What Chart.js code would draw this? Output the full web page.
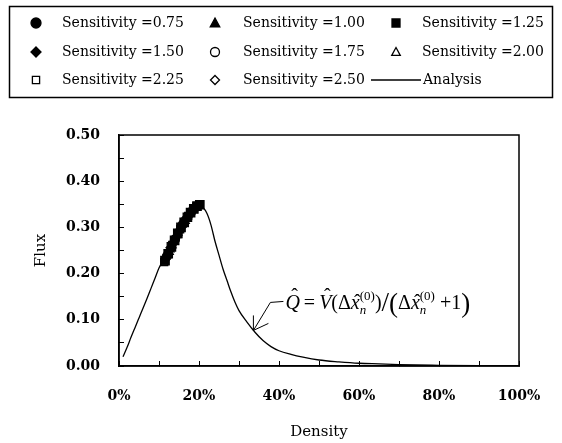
<!DOCTYPE html>
<html>
<head>
<meta charset="utf-8">
<script src="https://cdn.jsdelivr.net/npm/chart.js"></script>
<style>
  body { margin: 0; background: #fff; }
  canvas { display: block; }
</style>
</head>
<body>
<canvas id="myChart" width="562" height="443"></canvas>
<script>
// values, density in %
const analysisDensity = [1, 2, 3, 4, 5, 6, 7, 8, 9, 10, 12, 14, 16, 18, 19, 20, 21, 22, 23, 24, 25, 26, 27, 28, 29, 30, 32, 34, 36, 38, 40, 43, 46, 50, 55, 60, 65, 70, 80, 90, 100];
const analysisFlux = [0.020, 0.040, 0.062, 0.083, 0.104, 0.125, 0.146, 0.168, 0.190, 0.212, 0.243, 0.276, 0.306, 0.331, 0.341, 0.347, 0.343, 0.330, 0.305, 0.270, 0.240, 0.210, 0.185, 0.160, 0.138, 0.120, 0.095, 0.073, 0.055, 0.042, 0.033, 0.025, 0.019, 0.013, 0.009, 0.006, 0.0045, 0.003, 0.0015, 0.0005, 0.0];

const density075 = [12.0, 14.0, 16.0, 18.0];
const flux075 = [0.238, 0.274, 0.307, 0.333];
const density100 = [12.5, 14.5, 16.5, 18.5];
const flux100 = [0.247, 0.283, 0.314, 0.338];
const density125 = [11.5, 12.3, 13.1, 13.9, 14.7, 15.5, 16.3, 17.1, 17.9, 18.7, 19.5, 20.2];
const flux125 = [0.228, 0.243, 0.258, 0.272, 0.287, 0.300, 0.311, 0.322, 0.332, 0.340, 0.346, 0.349];
const density150 = [13.0, 15.0, 17.0, 19.0];
const flux150 = [0.256, 0.292, 0.321, 0.343];
const density175 = [11.8, 13.6, 15.6, 17.6];
const flux175 = [0.234, 0.267, 0.301, 0.328];
const density200 = [12.8, 14.8, 16.8, 18.8];
const flux200 = [0.252, 0.288, 0.318, 0.341];
const density225 = [11.3, 13.3, 15.3, 17.3, 19.3];
const flux225 = [0.225, 0.262, 0.296, 0.325, 0.345];
const density250 = [12.2, 14.2, 16.2, 18.2, 19.8];
const flux250 = [0.241, 0.278, 0.310, 0.335, 0.347];

const sensitivityLabels = ['Sensitivity =0.75', 'Sensitivity =1.00', 'Sensitivity =1.25',
                           'Sensitivity =1.50', 'Sensitivity =1.75', 'Sensitivity =2.00',
                           'Sensitivity =2.25', 'Sensitivity =2.50'];

const yTickValues = [0.0, 0.1, 0.2, 0.3, 0.4, 0.5];
const xTickValues = [0, 20, 40, 60, 80, 100];

// where the formula arrow points (density %, flux)
const arrowDensity = 33.6;
const arrowFlux = 0.077;

function toPoints(xs, ys) {
  return xs.map((x, i) => ({x: x, y: ys[i]}));
}

const INK = '#000';
const NONE = 'rgba(0,0,0,0)';

const markerSets = [
  {data: toPoints(density075, flux075), pointStyle: 'circle', radius: 4.5, fill: INK},
  {data: toPoints(density100, flux100), pointStyle: 'triangle', radius: 5, fill: INK},
  {data: toPoints(density125, flux125), pointStyle: 'rect', radius: 6, fill: INK},
  {data: toPoints(density150, flux150), pointStyle: 'rectRot', radius: 5, fill: INK},
  {data: toPoints(density175, flux175), pointStyle: 'circle', radius: 3.5, fill: NONE},
  {data: toPoints(density200, flux200), pointStyle: 'triangle', radius: 4.5, fill: NONE},
  {data: toPoints(density225, flux225), pointStyle: 'rect', radius: 5, fill: NONE},
  {data: toPoints(density250, flux250), pointStyle: 'rectRot', radius: 4.5, fill: NONE}
];

const datasets = markerSets.map((m, i) => ({
  label: sensitivityLabels[i],
  data: m.data,
  showLine: false,
  pointStyle: m.pointStyle,
  pointRadius: m.radius,
  pointBackgroundColor: m.fill,
  pointBorderColor: INK,
  pointBorderWidth: 1.2,
  order: m.pointStyle === 'rect' && m.fill === INK ? 0 : 1
}));

datasets.push({
  label: 'Analysis',
  data: toPoints(analysisDensity, analysisFlux),
  showLine: true,
  borderColor: INK,
  borderWidth: 1.3,
  pointRadius: 0,
  cubicInterpolationMode: 'monotone',
  order: 2
});

// legend marker drawn by hand, 3 per row
function drawMarker(ctx, style, r, filled, x, y) {
  ctx.save();
  ctx.beginPath();
  if (style === 'circle') {
    ctx.arc(x, y, r, 0, Math.PI * 2);
  } else if (style === 'triangle') {
    ctx.moveTo(x, y - r);
    ctx.lineTo(x + r * 0.95, y + r * 0.75);
    ctx.lineTo(x - r * 0.95, y + r * 0.75);
    ctx.closePath();
  } else if (style === 'rect') {
    ctx.rect(x - r * 0.8, y - r * 0.8, r * 1.6, r * 1.6);
  } else {
    ctx.moveTo(x, y - r);
    ctx.lineTo(x + r, y);
    ctx.lineTo(x, y + r);
    ctx.lineTo(x - r, y);
    ctx.closePath();
  }
  ctx.lineWidth = 1.3;
  ctx.strokeStyle = INK;
  if (filled) { ctx.fillStyle = INK; ctx.fill(); }
  ctx.stroke();
  ctx.restore();
}

const legendBox = {
  id: 'legendBox',
  afterDraw(chart) {
    const ctx = chart.ctx;
    ctx.save();
    ctx.strokeStyle = INK;
    ctx.lineWidth = 1.5;
    ctx.strokeRect(9.5, 6.5, 543, 91);
    const markX = [36, 215, 396];
    const textX = [62, 243, 422];
    const rowY = [23, 52, 80];
    ctx.font = '14px "DejaVu Serif"';
    ctx.fillStyle = INK;
    ctx.textBaseline = 'middle';
    for (let i = 0; i < 9; i++) {
      const col = i % 3, row = Math.floor(i / 3);
      const ds = chart.data.datasets[i];
      if (i < 8) {
        const m = markerSets[i];
        const lr = m.fill === INK ? 5 : 4.5;
        drawMarker(ctx, m.pointStyle, lr, m.fill === INK, markX[col], rowY[row]);
        ctx.fillText(ds.label, textX[col], rowY[row]);
      } else {
        ctx.beginPath();
        ctx.lineWidth = 1.3;
        ctx.moveTo(371, rowY[row]);
        ctx.lineTo(421, rowY[row]);
        ctx.stroke();
        ctx.fillText(ds.label, 423, rowY[row]);
      }
    }
    ctx.restore();
  }
};

// plot frame and the formula call-out
const frameAndNote = {
  id: 'frameAndNote',
  afterDraw(chart) {
    const ctx = chart.ctx;
    const a = chart.chartArea;
    ctx.save();
    ctx.strokeStyle = INK;
    ctx.lineWidth = 1.5;
    ctx.strokeRect(a.left, a.top, a.right - a.left, a.bottom - a.top);

    const tx = chart.scales.x.getPixelForValue(arrowDensity);
    const ty = chart.scales.y.getPixelForValue(arrowFlux);
    ctx.lineWidth = 1;
    ctx.beginPath();
    ctx.moveTo(tx, ty);
    ctx.lineTo(tx + 17, ty - 28);
    ctx.lineTo(tx + 30, ty - 29);
    ctx.moveTo(tx, ty);
    ctx.lineTo(tx, ty - 15);
    ctx.moveTo(tx, ty);
    ctx.lineTo(tx + 15, ty - 7);
    ctx.stroke();

    // Q^ = V^(Δx^_n^(0)) / (Δx^_n^(0) + 1)
    let x = tx + 32;
    const y = ty - 21;
    const it = 'italic 20px "Liberation Serif"';
    const rm = '20px "Liberation Serif"';
    const big = '27px "Liberation Serif"';
    const sm = '13px "Liberation Serif"';
    const smIt = 'italic 13px "Liberation Serif"';
    ctx.fillStyle = INK;
    ctx.textBaseline = 'alphabetic';
    function put(text, font, dy) {
      ctx.font = font;
      ctx.fillText(text, x, y + (dy || 0));
      const w = ctx.measureText(text).width;
      x += w;
      return w;
    }
    function hat(base, lift) {
      const x0 = x;
      const w = put(base, it);
      ctx.font = rm;
      const hw = ctx.measureText('\u02C6').width;
      ctx.fillText('\u02C6', x0 + w / 2 - hw / 2 + 2, y - lift);
    }
    function scripts() {
      const x0 = x;
      put('(0)', sm, -9);
      const w1 = x - x0;
      x = x0;
      put('n', smIt, 5);
      x = x0 + Math.max(w1, x - x0);
    }
    hat('Q', 6);
    put('\u2009=\u2009', rm);
    hat('V', 6);
    put('(', rm);
    put('\u0394', rm);
    hat('x', 0);
    scripts();
    put(')', rm);
    put('/', big, 2);
    put('(', big, 3);
    put('\u0394', rm);
    hat('x', 0);
    scripts();
    put(' +1', rm);
    put(')', big, 3);
    ctx.restore();
  }
};

const config = {
  type: 'scatter',
  data: {datasets: datasets},
  options: {
    responsive: false,
    animation: false,
    events: [],
    layout: {padding: {top: 135, right: 43, bottom: 0, left: 0}},
    plugins: {
      legend: {display: false},
      tooltip: {enabled: false}
    },
    scales: {
      x: {
        type: 'linear',
        min: 0,
        max: 100,
        afterFit: s => { s.height = 77; s.paddingLeft = 0; s.paddingRight = 0; },
        ticks: {
          stepSize: 10,
          autoSkip: false,
          maxRotation: 0,
          padding: 27,
          color: INK,
          font: {family: '"DejaVu Serif"', size: 14, weight: 'bold'},
          callback: v => (xTickValues.includes(v) ? v + '%' : '')
        },
        grid: {drawOnChartArea: false, drawTicks: true, tickLength: -5, color: INK, lineWidth: 1},
        border: {display: true, color: INK, width: 1.5},
        title: {
          display: true,
          text: 'Density',
          color: INK,
          font: {family: '"DejaVu Serif"', size: 15},
          padding: {top: 0, bottom: 2}
        }
      },
      y: {
        min: 0,
        max: 0.5,
        afterFit: s => { s.width = 119; },
        ticks: {
          stepSize: 0.05,
          autoSkip: false,
          padding: 24,
          color: INK,
          font: {family: '"DejaVu Serif"', size: 14, weight: 'bold'},
          callback: v => {
            const t = Math.round(v * 100) / 100;
            return yTickValues.some(k => Math.abs(k - t) < 1e-6) ? t.toFixed(2) : '';
          }
        },
        grid: {drawOnChartArea: false, drawTicks: true, tickLength: -5, color: INK, lineWidth: 1},
        border: {display: true, color: INK, width: 1.5},
        title: {
          display: true,
          text: 'Flux',
          color: INK,
          font: {family: '"DejaVu Serif"', size: 15},
          padding: {top: 32, bottom: 0}
        }
      }
    }
  },
  plugins: [legendBox, frameAndNote]
};

const myChart = new Chart(document.getElementById('myChart'), config);
</script>
</body>
</html>
